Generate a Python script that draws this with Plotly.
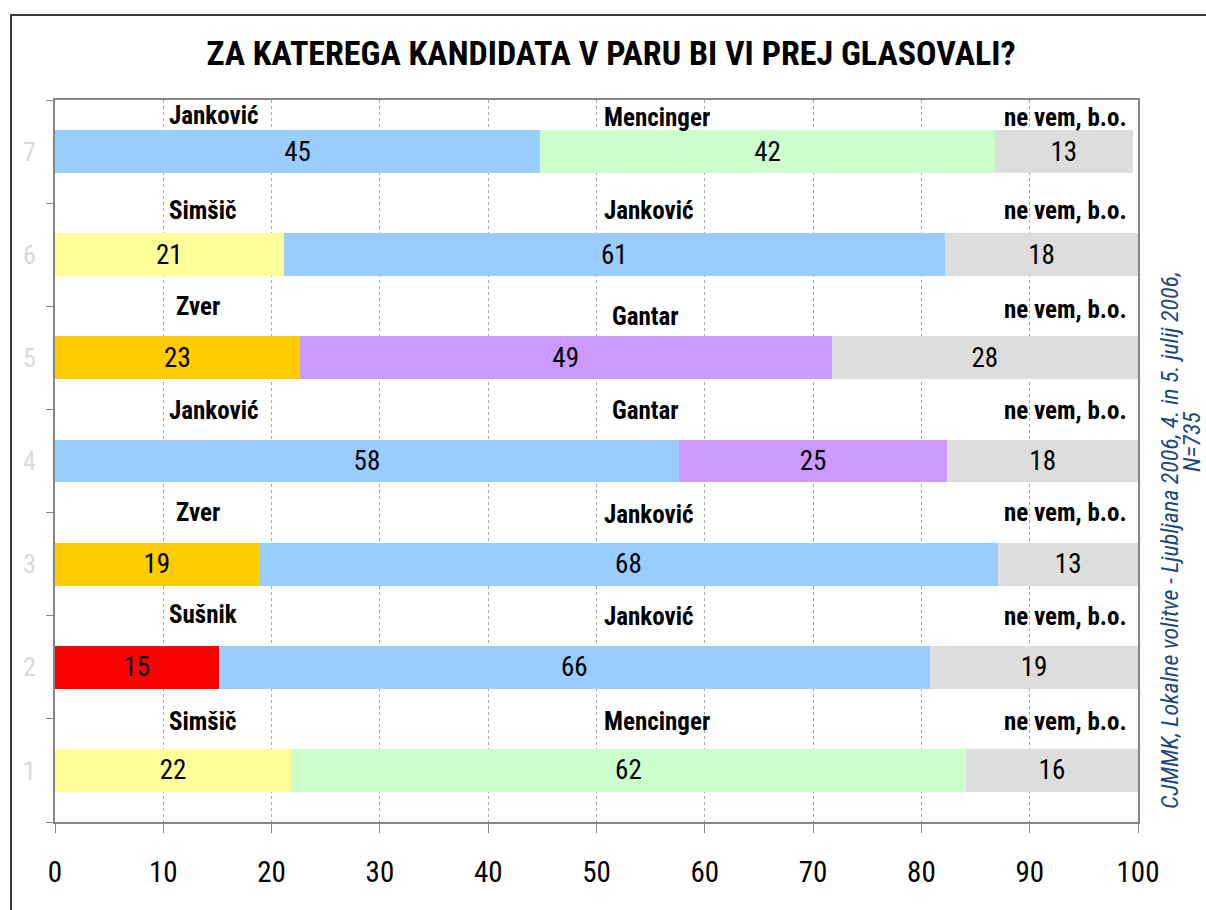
import plotly.graph_objects as go

# ---- data ----
rows = [1, 2, 3, 4, 5, 6, 7]
first_candidate = ["Simšič", "Sušnik", "Zver", "Janković", "Zver", "Simšič", "Janković"]
second_candidate = ["Mencinger", "Janković", "Janković", "Gantar", "Gantar", "Janković", "Mencinger"]
undecided_label = "ne vem, b.o."
first_pct = [21.8, 15.1, 18.8, 57.6, 22.6, 21.1, 44.8]
second_pct = [62.3, 65.7, 68.3, 24.8, 49.1, 61.1, 42.0]
undecided_pct = [15.9, 19.2, 12.9, 17.6, 28.3, 17.8, 12.7]
x_ticks = [0, 10, 20, 30, 40, 50, 60, 70, 80, 90, 100]

title = "ZA KATEREGA KANDIDATA V PARU BI VI PREJ GLASOVALI?"
source_line1 = "CJMMK, Lokalne volitve - Ljubljana 2006, 4. in 5. julij 2006,"
source_line2 = "N=735"

# ---- styles ----
candidate_colors = {
    "Janković": "#99CCFF",
    "Mencinger": "#CCFFCC",
    "Simšič": "#FFFF99",
    "Zver": "#FFCC00",
    "Gantar": "#CC99FF",
    "Sušnik": "#FF0000",
    undecided_label: "#DDDDDD",
}
NARROW = "Liberation Sans Narrow, Arial Narrow, Roboto Condensed, DejaVu Sans Condensed, sans-serif"
BAR_W = 0.415
# vertical placement of the name labels (offset above each row centre, axis units)
name_offset = [0.47, 0.51, 0.50, 0.49, 0.50, 0.43, 0.345]
mid_offset = [0.47, 0.49, 0.48, 0.49, 0.40, 0.43, 0.33]
right_offset = [0.47, 0.49, 0.50, 0.49, 0.47, 0.43, 0.33]
first_x = [10.3, 10.3, 11.0, 10.3, 11.0, 10.3, 10.3]
mid_x = [50.5, 50.5, 50.5, 51.2, 51.2, 50.5, 50.5]

fig = go.Figure()
segments = [
    (first_pct, first_candidate),
    (second_pct, second_candidate),
    (undecided_pct, [undecided_label] * len(rows)),
]
for vals, names in segments:
    fig.add_trace(go.Bar(
        y=rows, x=vals, orientation="h", width=BAR_W,
        marker=dict(color=[candidate_colors[n] for n in names], line=dict(width=0)),
        texttemplate="%{x:.0f}", textposition="inside", insidetextanchor="middle",
        textangle=0, constraintext="none",
        textfont=dict(family=NARROW, size=27, color="#000000"),
        hoverinfo="skip", showlegend=False,
    ))

ann = []
name_font = dict(family=NARROW, size=25, color="#000000")
for i, r in enumerate(rows):
    ann.append(dict(x=first_x[i], y=r + name_offset[i], xref="x", yref="y",
                    text="<b>%s</b>" % first_candidate[i], showarrow=False,
                    xanchor="left", yanchor="middle", font=name_font))
    ann.append(dict(x=mid_x[i], y=r + mid_offset[i], xref="x", yref="y",
                    text="<b>%s</b>" % second_candidate[i], showarrow=False,
                    xanchor="left", yanchor="middle", font=name_font))
    ann.append(dict(x=99.2, y=r + right_offset[i], xref="x", yref="y",
                    text="<b>%s</b>" % undecided_label, showarrow=False,
                    xanchor="right", yanchor="middle", font=name_font))

src_font = dict(family=NARROW, size=24, color="#1F4A7C")
ann.append(dict(x=(1170 - 55) / 1083, y=(822 - 540) / 722, xref="paper", yref="paper",
                text="<i>%s</i>" % source_line1, showarrow=False, textangle=-90,
                xanchor="center", yanchor="middle", font=src_font))
ann.append(dict(x=(1192 - 55) / 1083, y=(822 - 442) / 722, xref="paper", yref="paper",
                text="<i>%s</i>" % source_line2, showarrow=False, textangle=-90,
                xanchor="center", yanchor="middle", font=src_font))

# outer frame (partially outside the page like the original)
shapes = [dict(type="rect", xref="paper", yref="paper",
               x0=(11 - 55) / 1083, x1=(1230 - 55) / 1083,
               y0=(822 - 940) / 722, y1=(822 - 15) / 722,
               line=dict(color="#3A3A3A", width=2), fillcolor="rgba(0,0,0,0)", layer="below")]

fig.update_layout(
    width=1206, height=910,
    margin=dict(l=55, r=68, t=100, b=88),
    paper_bgcolor="#FFFFFF", plot_bgcolor="#FFFFFF",
    barmode="stack",
    title=dict(text="<b>%s</b>" % title, x=611 / 1206, xanchor="center",
               y=1 - 53 / 910, yanchor="middle", yref="container",
               font=dict(family=NARROW, size=34, color="#000000")),
    xaxis=dict(range=[0, 100], tickvals=x_ticks, ticks="outside", ticklen=9,
               tickcolor="#868686", tickwidth=1,
               showgrid=True, gridcolor="#A8A8A8", griddash="dot", gridwidth=1,
               showline=True, linecolor="#868686", linewidth=2, mirror=True,
               zeroline=False, ticklabelstandoff=14, automargin=False,
               tickfont=dict(family=NARROW, size=29, color="#000000")),
    yaxis=dict(range=[0.5, 7.5], tickvals=rows, ticks="", showgrid=False,
               showline=True, linecolor="#868686", linewidth=2, mirror=True,
               zeroline=False, ticklabelstandoff=12, automargin=False,
               minor=dict(tickmode="array", tickvals=[0.5, 1.5, 2.5, 3.5, 4.5, 5.5, 6.5, 7.5],
                          ticks="outside", ticklen=7, tickcolor="#868686", tickwidth=1,
                          showgrid=False),
               tickfont=dict(family=NARROW, size=26, color="#D9D9D9")),
    annotations=ann,
    shapes=shapes,
)

fig.write_html("out.html", config={"displayModeBar": False},
               post_script="document.body.style.margin='0';")
